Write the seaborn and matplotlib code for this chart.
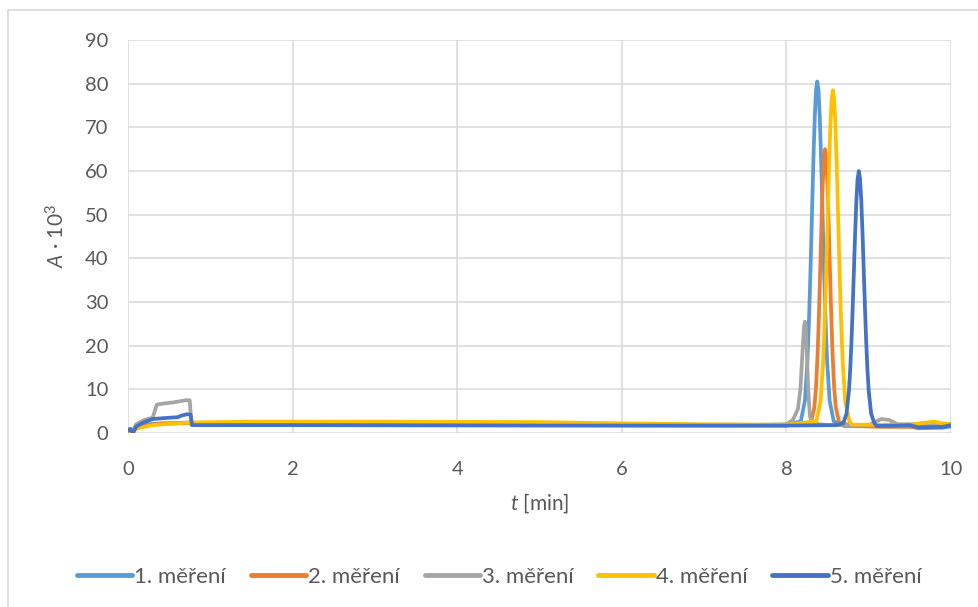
import matplotlib
matplotlib.use("Agg")
import matplotlib.pyplot as plt
from matplotlib.patches import Rectangle
import seaborn as sns
import pandas as pd

# Absorbance records (A * 10^3) versus time for five repeated runs
t1 = [0, 0.03, 0.06, 0.1, 0.15, 0.25, 0.4, 0.6, 0.75, 0.78, 1.5, 3, 5, 7, 8.0,
      8.175, 8.225, 8.255, 8.27, 8.285, 8.3, 8.315, 8.33, 8.345, 8.36, 8.375,
      8.39, 8.405, 8.42, 8.435, 8.45, 8.465, 8.48, 8.495, 8.525, 8.575,
      8.7, 9.0, 9.5, 9.6, 9.9, 10]
a1 = [0.8, 1.0, 0.2, 1.2, 1.8, 2.0, 2.2, 2.3, 2.4, 1.8, 1.9, 1.9, 1.9, 1.8, 1.8,
      2.7, 7.4, 16.3, 23.4, 32.1, 42.3, 53.3, 63.8, 72.6, 78.5, 80.5,
      78.5, 72.6, 63.8, 53.3, 42.3, 32.1, 23.4, 16.3, 7.4, 2.7,
      1.6, 1.6, 1.5, 1.1, 1.2, 1.5]

t2 = [0, 0.03, 0.06, 0.1, 0.2, 0.4, 0.6, 0.75, 0.78, 2, 5, 7, 8.0,
      8.30, 8.34, 8.36, 8.38, 8.395, 8.41, 8.425, 8.44, 8.455, 8.47,
      8.485, 8.50, 8.515, 8.53, 8.545, 8.56, 8.58, 8.60, 8.64,
      8.8, 9.2, 9.6, 9.7, 9.8, 10]
a2 = [0.6, 0.9, 0.1, 1.3, 1.8, 2.1, 2.2, 2.3, 1.8, 1.8, 1.8, 1.7, 1.7,
      2.5, 5.9, 10.5, 18.5, 26.9, 36.8, 47.1, 56.3, 62.7, 65,
      62.7, 56.3, 47.1, 36.8, 26.9, 18.5, 10.5, 5.9, 2.5,
      1.6, 1.4, 1.4, 2.0, 1.8, 2.0]

t3 = [0, 0.05, 0.1, 0.2, 0.3, 0.35, 0.45, 0.55, 0.7, 0.75, 0.77, 1.5, 5, 7.5, 8.0,
      8.08, 8.14, 8.17, 8.2, 8.215, 8.225, 8.235, 8.245, 8.265, 8.285, 8.31,
      8.5, 9.0, 9.15, 9.25, 9.35, 10]
a3 = [0.5, 0.2, 2.0, 3.0, 3.5, 6.5, 6.8, 7.0, 7.5, 7.5, 2.2, 2.2, 2.0, 1.8, 2.0,
      3.0, 5.5, 10, 20, 24.5, 25.5, 24.5, 20, 10, 4.0, 2.2,
      1.8, 1.8, 3.2, 3.0, 2.0, 2.0]

t4 = [0, 0.05, 0.1, 0.3, 0.5, 0.75, 1.5, 3, 5, 6, 7, 8.0,
      8.365, 8.415, 8.445, 8.46, 8.475, 8.49, 8.505, 8.52, 8.535, 8.55, 8.565,
      8.58, 8.595, 8.61, 8.625, 8.64, 8.655, 8.67, 8.685, 8.715, 8.765,
      8.8, 9.5, 9.7, 9.8, 9.9, 10]
a4 = [0.5, 0.0, 1.0, 1.8, 2.1, 2.4, 2.6, 2.6, 2.5, 2.2, 2.0, 1.9,
      2.7, 7.3, 15.9, 22.8, 31.3, 41.3, 52.0, 62.2, 70.8, 76.5, 78.5,
      76.5, 70.8, 62.2, 52.0, 41.3, 31.3, 22.8, 15.9, 7.3, 2.7,
      1.9, 1.9, 2.4, 2.6, 2.2, 2.0]

t5 = [0, 0.03, 0.06, 0.1, 0.2, 0.3, 0.5, 0.6, 0.65, 0.72, 0.76, 0.78, 2, 5, 8, 8.6,
      8.69, 8.73, 8.76, 8.775, 8.79, 8.805, 8.82, 8.835, 8.85, 8.865, 8.88,
      8.895, 8.91, 8.925, 8.94, 8.955, 8.97, 8.985, 9.0, 9.03, 9.07,
      9.1, 9.5, 9.6, 9.9, 10]
a5 = [0.5, 0.8, 0.0, 1.5, 2.5, 3.2, 3.5, 3.6, 4.0, 4.3, 4.2, 1.8, 1.8, 1.7, 1.7, 1.8,
      2.2, 4.4, 9.7, 14.4, 20.7, 28.5, 37.1, 45.7, 53.1, 58.2, 60,
      58.2, 53.1, 45.7, 37.1, 28.5, 20.7, 14.4, 9.7, 4.4, 2.2,
      1.6, 1.8, 1.3, 1.4, 1.8]

labels = ["1. měření", "2. měření", "3. měření", "4. měření", "5. měření"]
colors = ["#5B9BD5", "#ED7D31", "#A5A5A5", "#FFC000", "#4472C4"]
x_ticks = [0, 2, 4, 6, 8, 10]
y_ticks = [0, 10, 20, 30, 40, 50, 60, 70, 80, 90]

frames = []
for ts, vals, lab in zip([t1, t2, t3, t4, t5], [a1, a2, a3, a4, a5], labels):
    frames.append(pd.DataFrame({"t": ts, "A": vals, "series": lab}))
df = pd.concat(frames, ignore_index=True)

sns.set_theme(style="white")
plt.rcParams["font.family"] = ["Lato", "DejaVu Sans"]
plt.rcParams["mathtext.fontset"] = "custom"
plt.rcParams["mathtext.rm"] = "Lato"
plt.rcParams["mathtext.it"] = "Lato:italic"

text_color = "#595959"
grid_color = "#D9D9D9"

fig = plt.figure(figsize=(9.79, 6.07), dpi=100)
ax = fig.add_axes([128 / 979, 1 - 433 / 607, (951 - 128) / 979, (433 - 40) / 607])

sns.lineplot(data=df, x="t", y="A", hue="series", palette=colors, hue_order=labels,
             sort=False, estimator=None, linewidth=2.7, ax=ax, legend=False)
for ln in ax.get_lines():
    ln.set_solid_joinstyle("round")
    ln.set_solid_capstyle("round")

ax.set_xlim(0, 10)
ax.set_ylim(0, 90)
ax.set_xticks(x_ticks)
ax.set_yticks(y_ticks)
ax.grid(True, color=grid_color, linewidth=1.1)
ax.set_axisbelow(True)
for s in ax.spines.values():
    s.set_visible(False)
ax.tick_params(axis="both", length=0, labelsize=14.5, colors=text_color)
ax.tick_params(axis="x", pad=20)
ax.tick_params(axis="y", pad=14)

ax.set_xlabel(r"$\it{t}$ [min]", fontsize=15, color=text_color, labelpad=10)
ax.set_ylabel(r"$\it{A}$ · 10$^3$", fontsize=15, color=text_color, labelpad=12)

handles = [plt.Line2D([0], [0], color=c, linewidth=3.5) for c in colors]
fig.legend(handles, labels, loc="center", bbox_to_anchor=(0.51, 1 - 577 / 607), ncol=5,
           frameon=False, handlelength=2.5, handletextpad=0.1,
           columnspacing=1.1, labelcolor=text_color,
           prop={"family": ["Liberation Sans Narrow", "Lato"], "size": 16})

fig.patches.append(Rectangle((8 / 979, -0.1), 1.2, 1 - 10 / 607 + 0.1,
                             transform=fig.transFigure, fill=False,
                             edgecolor=grid_color, linewidth=1.2))

fig.savefig("out.png", dpi=100)
